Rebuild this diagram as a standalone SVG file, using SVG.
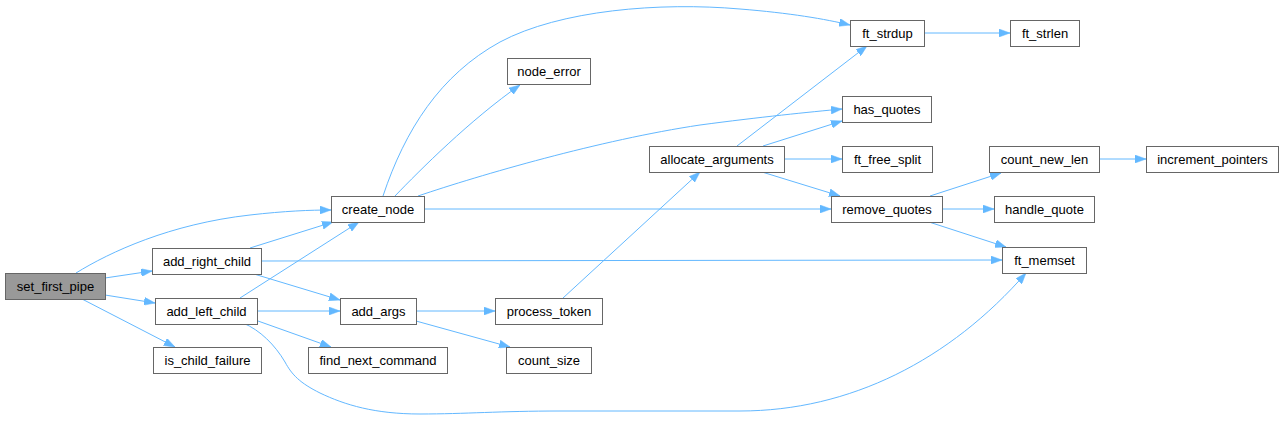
<svg xmlns="http://www.w3.org/2000/svg" width="1283" height="422" viewBox="0 0 1283 422">
<style>
.n rect{fill:#fff;stroke:#666;stroke-width:1}
.n.root rect{fill:#999}
.n text{font-family:"Liberation Sans",Arial,sans-serif;font-size:13px;fill:#000;text-anchor:middle}
.e path{fill:none;stroke:#63b8ff;stroke-width:1;marker-end:url(#ah)}
</style>
<defs>
<marker id="ah" markerUnits="userSpaceOnUse" markerWidth="11" markerHeight="8" viewBox="0 0 11 8" refX="11" refY="4" orient="auto">
<path d="M0,0 L11,4 L0,8 z" fill="#63b8ff" stroke="#63b8ff" stroke-width="0.5"/>
</marker>
</defs>
<g id="edges" class="e">
<path d="M76,273 C110,252 170,224 250,215 C285,211 310,210 331,210"/>
<path d="M105,278 L152,271"/>
<path d="M105,295 L155,303"/>
<path d="M82,299 L175,347"/>
<path d="M250,248 L333,222"/>
<path d="M261,261 L1002,260"/>
<path d="M254,274 L340,300"/>
<path d="M240,298 L359,222"/>
<path d="M257,311 L340,311"/>
<path d="M258,321 L331,347"/>
<path d="M243,323 C260,330 275,345 285,362 C292,375 300,383 320,393 C345,405 375,414 420,414 C465,414 500,411 560,411 L740,411 C850,411 950,360 1026,273"/>
<path d="M383,196 C405,130 440,75 500,42 C560,10 660,2 740,9 C790,13 825,19 850,25"/>
<path d="M395,196 C420,170 470,120 520,85"/>
<path d="M418,196 C480,175 600,140 700,125 C760,117 810,112 842,109"/>
<path d="M424,209 L831,209"/>
<path d="M416,311 L495,311"/>
<path d="M416,321 L510,347"/>
<path d="M563,298 L700,172"/>
<path d="M737,146 L867,46"/>
<path d="M763,146 L842,121"/>
<path d="M784,159 L842,159"/>
<path d="M762,172 L840,196"/>
<path d="M924,33 L1010,33"/>
<path d="M930,196 L1001,173"/>
<path d="M942,209 L994,209"/>
<path d="M929,222 L1006,247"/>
<path d="M1099,159 L1146,159"/>
</g>
<g id="set_first_pipe" class="n root"><rect x="5.5" y="273.5" width="100" height="26"/><text x="55.5" y="291">set_first_pipe</text></g>
<g id="add_right_child" class="n"><rect x="152.5" y="248.5" width="109" height="26"/><text x="207" y="266">add_right_child</text></g>
<g id="add_left_child" class="n"><rect x="155.5" y="298.5" width="102" height="26"/><text x="206.5" y="316">add_left_child</text></g>
<g id="is_child_failure" class="n"><rect x="153.5" y="347.5" width="108" height="26"/><text x="207.5" y="365">is_child_failure</text></g>
<g id="create_node" class="n"><rect x="331.5" y="196.5" width="93" height="26"/><text x="378" y="214">create_node</text></g>
<g id="add_args" class="n"><rect x="340.5" y="298.5" width="76" height="26"/><text x="378.5" y="316">add_args</text></g>
<g id="find_next_command" class="n"><rect x="308.5" y="347.5" width="139" height="26"/><text x="378" y="365">find_next_command</text></g>
<g id="node_error" class="n"><rect x="507.5" y="58.5" width="83" height="26"/><text x="549" y="76">node_error</text></g>
<g id="process_token" class="n"><rect x="495.5" y="298.5" width="107" height="26"/><text x="549" y="316">process_token</text></g>
<g id="count_size" class="n"><rect x="506.5" y="347.5" width="85" height="26"/><text x="549" y="365">count_size</text></g>
<g id="allocate_arguments" class="n"><rect x="649.5" y="146.5" width="135" height="26"/><text x="717" y="164">allocate_arguments</text></g>
<g id="ft_strdup" class="n"><rect x="850.5" y="20.5" width="74" height="26"/><text x="887.5" y="38">ft_strdup</text></g>
<g id="has_quotes" class="n"><rect x="842.5" y="96.5" width="89" height="26"/><text x="887" y="114">has_quotes</text></g>
<g id="ft_free_split" class="n"><rect x="842.5" y="146.5" width="90" height="26"/><text x="887.5" y="164">ft_free_split</text></g>
<g id="remove_quotes" class="n"><rect x="831.5" y="196.5" width="111" height="26"/><text x="887" y="214">remove_quotes</text></g>
<g id="ft_strlen" class="n"><rect x="1010.5" y="20.5" width="69" height="26"/><text x="1045" y="38">ft_strlen</text></g>
<g id="count_new_len" class="n"><rect x="989.5" y="146.5" width="110" height="26"/><text x="1044.5" y="164">count_new_len</text></g>
<g id="handle_quote" class="n"><rect x="994.5" y="196.5" width="100" height="26"/><text x="1044.5" y="214">handle_quote</text></g>
<g id="ft_memset" class="n"><rect x="1002.5" y="247.5" width="84" height="26"/><text x="1044.5" y="265">ft_memset</text></g>
<g id="increment_pointers" class="n"><rect x="1146.5" y="146.5" width="132" height="26"/><text x="1212.5" y="164">increment_pointers</text></g>
</svg>
